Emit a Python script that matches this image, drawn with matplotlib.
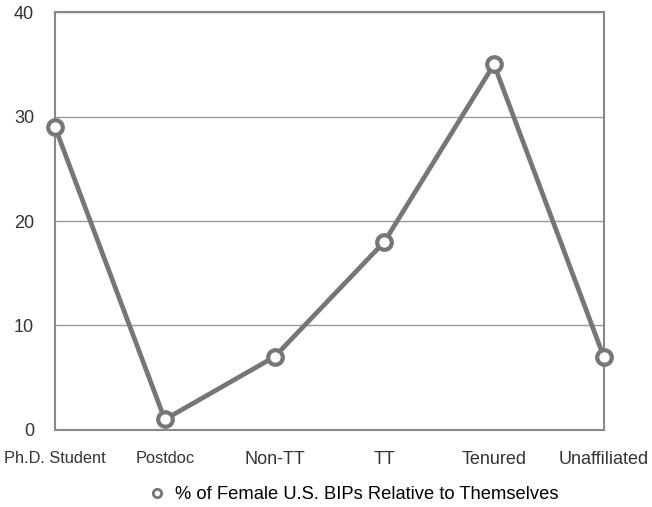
import numpy as np
import matplotlib.pyplot as plt
from matplotlib.lines import Line2D

plt.rcParams['font.family'] = ['Liberation Sans', 'DejaVu Sans']

categories = ['Ph.D. Student', 'Postdoc', 'Non-TT', 'TT', 'Tenured', 'Unaffiliated']
values = [29, 1, 7, 18, 35, 7]
label = '% of Female U.S. BIPs Relative to Themselves'

grey = '#767676'

fig = plt.figure(figsize=(6.52, 5.07), dpi=100)
ax = fig.add_axes([0.0844, 0.152, 0.8416, 0.824])

x = np.arange(len(categories))
ax.plot(x, values, '-o', color=grey, lw=3.4, ms=10.5, mfc='white', mec=grey, mew=3,
        clip_on=False, zorder=3)

ax.set_xlim(0, len(categories) - 1)
ax.set_ylim(0, 40)
ax.set_yticks([0, 10, 20, 30, 40])
ax.set_xticks(x)
ax.set_xticklabels(categories)
ax.yaxis.grid(True, color='#999999', lw=1)
ax.tick_params(length=0, labelsize=13, colors='#333333', pad=15)
ax.tick_params(axis='y', pad=15)
for s in ax.spines.values():
    s.set_color('#888888')
    s.set_linewidth(1.5)

# the first two labels are narrower in the original
for t in ax.get_xticklabels()[:2]:
    t.set_fontsize(11.8)
    t.set_fontstretch('condensed')

h = Line2D([], [], color='none', marker='o', ms=6, mfc='white', mec=grey, mew=2)
fig.legend([h], [label], loc='lower center', bbox_to_anchor=(0.54, -0.025), frameon=False,
           fontsize=13.2, handletextpad=0.4, handlelength=1.2)

fig.savefig('out.png', dpi=100)
